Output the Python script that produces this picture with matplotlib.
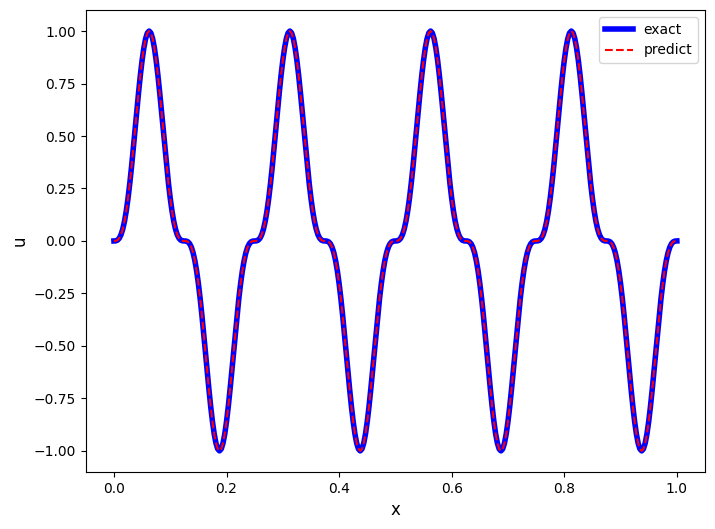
import numpy as np
import matplotlib
matplotlib.use("Agg")
import matplotlib.pyplot as plt

# x grid (321 points on [0, 1])
x = np.linspace(0.0, 1.0, 321)

# exact solution (4 periods)
u_exact = [
    0.0, 0.0005, 0.0038, 0.0127, 0.0295, 0.0560, 0.0936, 0.1426, 0.2031, 0.2739, 0.3536, 0.4397, 0.5295, 0.6199, 0.7074, 0.7886, 0.8602, 0.9194, 0.9635, 0.9908,
    1.0, 0.9908, 0.9635, 0.9194, 0.8602, 0.7886, 0.7074, 0.6199, 0.5295, 0.4397, 0.3536, 0.2739, 0.2031, 0.1426, 0.0936, 0.0560, 0.0295, 0.0127, 0.0038, 0.0005,
    0.0, -0.0005, -0.0038, -0.0127, -0.0295, -0.0560, -0.0936, -0.1426, -0.2031, -0.2739, -0.3536, -0.4397, -0.5295, -0.6199, -0.7074, -0.7886, -0.8602, -0.9194, -0.9635, -0.9908,
    -1.0, -0.9908, -0.9635, -0.9194, -0.8602, -0.7886, -0.7074, -0.6199, -0.5295, -0.4397, -0.3536, -0.2739, -0.2031, -0.1426, -0.0936, -0.0560, -0.0295, -0.0127, -0.0038, -0.0005,
    0.0, 0.0005, 0.0038, 0.0127, 0.0295, 0.0560, 0.0936, 0.1426, 0.2031, 0.2739, 0.3536, 0.4397, 0.5295, 0.6199, 0.7074, 0.7886, 0.8602, 0.9194, 0.9635, 0.9908,
    1.0, 0.9908, 0.9635, 0.9194, 0.8602, 0.7886, 0.7074, 0.6199, 0.5295, 0.4397, 0.3536, 0.2739, 0.2031, 0.1426, 0.0936, 0.0560, 0.0295, 0.0127, 0.0038, 0.0005,
    0.0, -0.0005, -0.0038, -0.0127, -0.0295, -0.0560, -0.0936, -0.1426, -0.2031, -0.2739, -0.3536, -0.4397, -0.5295, -0.6199, -0.7074, -0.7886, -0.8602, -0.9194, -0.9635, -0.9908,
    -1.0, -0.9908, -0.9635, -0.9194, -0.8602, -0.7886, -0.7074, -0.6199, -0.5295, -0.4397, -0.3536, -0.2739, -0.2031, -0.1426, -0.0936, -0.0560, -0.0295, -0.0127, -0.0038, -0.0005,
    0.0, 0.0005, 0.0038, 0.0127, 0.0295, 0.0560, 0.0936, 0.1426, 0.2031, 0.2739, 0.3536, 0.4397, 0.5295, 0.6199, 0.7074, 0.7886, 0.8602, 0.9194, 0.9635, 0.9908,
    1.0, 0.9908, 0.9635, 0.9194, 0.8602, 0.7886, 0.7074, 0.6199, 0.5295, 0.4397, 0.3536, 0.2739, 0.2031, 0.1426, 0.0936, 0.0560, 0.0295, 0.0127, 0.0038, 0.0005,
    0.0, -0.0005, -0.0038, -0.0127, -0.0295, -0.0560, -0.0936, -0.1426, -0.2031, -0.2739, -0.3536, -0.4397, -0.5295, -0.6199, -0.7074, -0.7886, -0.8602, -0.9194, -0.9635, -0.9908,
    -1.0, -0.9908, -0.9635, -0.9194, -0.8602, -0.7886, -0.7074, -0.6199, -0.5295, -0.4397, -0.3536, -0.2739, -0.2031, -0.1426, -0.0936, -0.0560, -0.0295, -0.0127, -0.0038, -0.0005,
    0.0, 0.0005, 0.0038, 0.0127, 0.0295, 0.0560, 0.0936, 0.1426, 0.2031, 0.2739, 0.3536, 0.4397, 0.5295, 0.6199, 0.7074, 0.7886, 0.8602, 0.9194, 0.9635, 0.9908,
    1.0, 0.9908, 0.9635, 0.9194, 0.8602, 0.7886, 0.7074, 0.6199, 0.5295, 0.4397, 0.3536, 0.2739, 0.2031, 0.1426, 0.0936, 0.0560, 0.0295, 0.0127, 0.0038, 0.0005,
    0.0, -0.0005, -0.0038, -0.0127, -0.0295, -0.0560, -0.0936, -0.1426, -0.2031, -0.2739, -0.3536, -0.4397, -0.5295, -0.6199, -0.7074, -0.7886, -0.8602, -0.9194, -0.9635, -0.9908,
    -1.0, -0.9908, -0.9635, -0.9194, -0.8602, -0.7886, -0.7074, -0.6199, -0.5295, -0.4397, -0.3536, -0.2739, -0.2031, -0.1426, -0.0936, -0.0560, -0.0295, -0.0127, -0.0038, -0.0005,
    0.0,
]

# network prediction, indistinguishable from the exact curve at this scale
u_predict = list(u_exact)

fig, ax = plt.subplots(figsize=(7.15, 5.29), dpi=100)
fig.subplots_adjust(left=0.120, right=0.986, bottom=0.108, top=0.981)

ax.plot(x, u_exact, color="blue", linewidth=4, label="exact")
ax.plot(x, u_predict, color="red", linestyle="--", linewidth=1.5, label="predict")

ax.set_xlabel("x", fontsize=12)
ax.set_ylabel("u", fontsize=12)
ax.legend(loc="upper right")

fig.savefig("out.png", dpi=100)
